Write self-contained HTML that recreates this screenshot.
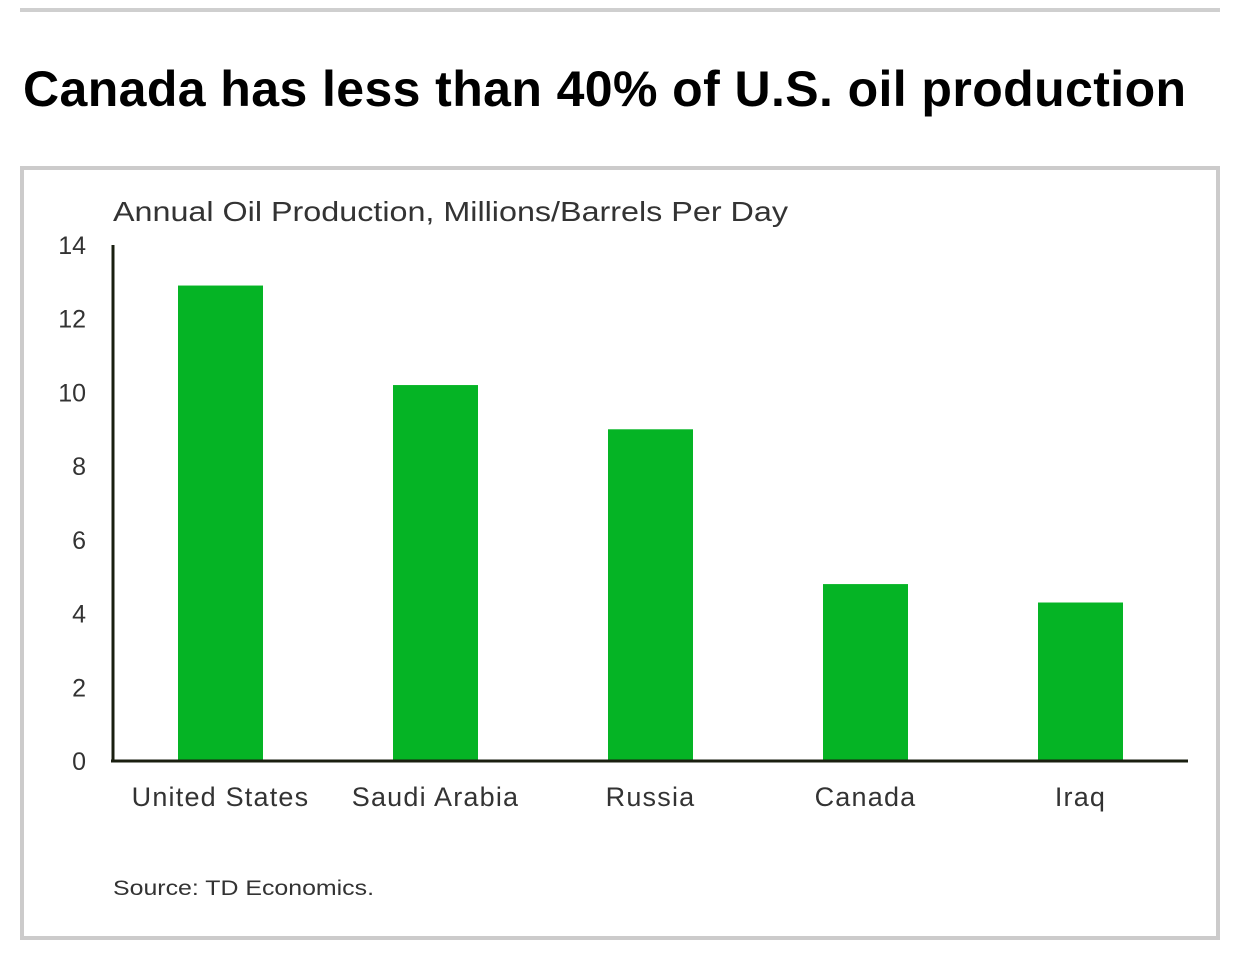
<!DOCTYPE html>
<html><head><meta charset="utf-8">
<style>
html,body{margin:0;padding:0;background:#fff;}
body{width:1238px;height:980px;position:relative;overflow:hidden;font-family:"Liberation Sans",sans-serif;}
#topline{position:absolute;left:20px;top:8px;width:1200px;height:4px;background:#cfcfcf;}
#title{position:absolute;left:23px;top:60px;font-size:50px;font-weight:bold;color:#000;letter-spacing:0.4px;white-space:nowrap;}
#box{position:absolute;left:20px;top:166px;width:1192px;height:766px;border:4px solid #cccbcb;}
svg{position:absolute;left:0;top:0;}
</style></head>
<body>
<div id="topline"></div>
<div id="title">Canada has less than 40% of U.S. oil production</div>
<div id="box"></div>
<svg id="chart" width="1238" height="980">
<text x="113" y="221" font-size="28" fill="#333" textLength="675" lengthAdjust="spacingAndGlyphs" font-family="Liberation Sans, sans-serif">Annual Oil Production, Millions/Barrels Per Day</text>
<text x="113" y="895" font-size="21" fill="#333" textLength="261" lengthAdjust="spacingAndGlyphs" font-family="Liberation Sans, sans-serif">Source: TD Economics.</text>
</svg>
<script>
const categories=["United States","Saudi Arabia","Russia","Canada","Iraq"];
const values=[12.9,10.2,9.0,4.8,4.3];
const yTicks=[0,2,4,6,8,10,12,14];
const NS="http://www.w3.org/2000/svg";
const svg=document.getElementById('chart');
const x0=113,x1=1188,yB=761,yT=245,yMax=14;
const y=v=>yB-(v/yMax)*(yB-yT);
const band=(x1-x0)/categories.length;
const xc=i=>x0+band*(i+0.5);
const bw=85;
function mk(tag,attrs){const e=document.createElementNS(NS,tag);for(const k in attrs)e.setAttribute(k,attrs[k]);svg.appendChild(e);return e;}
values.forEach((v,i)=>{
 const r=mk('rect',{x:xc(i)-bw/2,y:y(v),width:bw,height:yB-y(v),fill:'#05b425'});
 
 
 const t=mk('text',{x:xc(i),y:806,'font-size':27,fill:'#333','text-anchor':'middle','letter-spacing':'1.2','font-family':'Liberation Sans, sans-serif'});
 t.textContent=categories[i];
 
 
});
yTicks.forEach(v=>{
 const t=mk('text',{x:86,y:y(v)+9,'font-size':25,fill:'#333','text-anchor':'end','font-family':'Liberation Sans, sans-serif'});
 t.textContent=v;
 
 
});
const ya=mk('line',{x1:113,y1:yT,x2:113,y2:yB+1,stroke:'#1a1f10','stroke-width':3});


const xa=mk('line',{x1:111,y1:yB,x2:x1,y2:yB,stroke:'#1a1f10','stroke-width':3});


</script>
</body></html>
